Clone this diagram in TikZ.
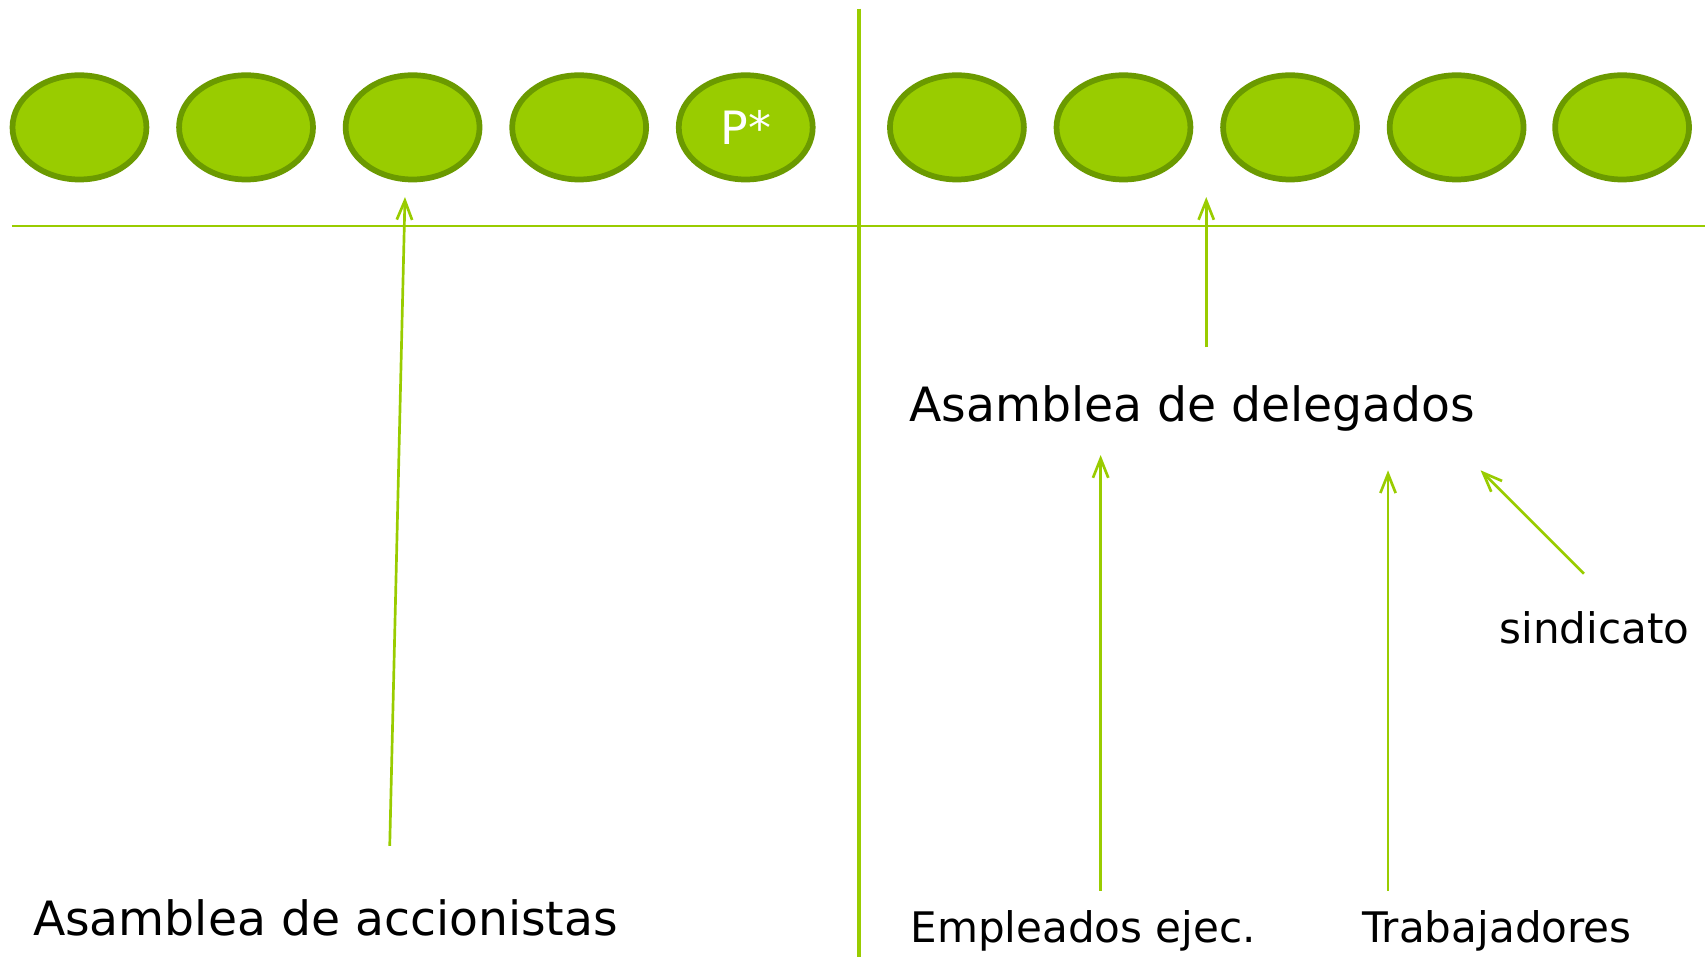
\documentclass[tikz,border=0pt]{standalone}
\usepackage{fontspec}
\setmainfont{DejaVu Sans}
\usetikzlibrary{arrows.meta,shapes.geometric}
\definecolor{leaf}{HTML}{99CC00}
\definecolor{leafdark}{HTML}{6B9A00}
\tikzstyle{seat} = [draw=leafdark, fill=leaf, ellipse, line width=3pt, inner sep=0pt, minimum width=70pt, minimum height=54.5pt]
\tikzstyle{big} = [inner sep=0pt, anchor=base west, font={\fontsize{24.7}{30}\selectfont}]
\tikzstyle{small} = [inner sep=0pt, anchor=base west, font={\fontsize{22}{26}\selectfont}]
\tikzstyle{vote} = [draw=leaf, line width=1.4pt, -{Straight Barb[length=10pt,width=8pt]}]

\begin{document}
\begin{tikzpicture}[x=0.569pt, y=-0.569pt]
  \useasboundingbox (0,0) rectangle (1568,879);
  % separators
  \draw[leaf, line width=1.1pt] (11,208) -- (1566,208);
  \draw[leaf, line width=2.4pt] (789,8) -- (789,879);
  % seats of the board
  \node[seat](s1) at (73,117){};
  \node[seat](s2) at (226,117){};
  \node[seat](s3) at (379,117){};
  \node[seat](s4) at (532,117){};
  \node[seat, text=white, font={\fontsize{24}{28}\selectfont}](s5) at (685,117){P*};
  \node[seat](s6) at (879,117){};
  \node[seat](s7) at (1032,117){};
  \node[seat](s8) at (1185,117){};
  \node[seat](s9) at (1338,117){};
  \node[seat](s10) at (1490,117){};
  % texts
  \node[big](acc) at (30,859){Asamblea de accionistas};
  \node[big](del) at (835,387){Asamblea de delegados};
  \node[small](emp) at (836,866){Empleados ejec.};
  \node[small](trab) at (1251,866){Trabajadores};
  \node[small](sind) at (1377,591){sindicato};
  % arrow ends
  \coordinate (acc-from) at (358,777);
  \coordinate (acc-to) at (372,181);
  \coordinate (del-from) at (1108,319);
  \coordinate (del-to) at (1108,181);
  \coordinate (emp-from) at (1011,818);
  \coordinate (emp-to) at (1011,418);
  \coordinate (trab-from) at (1275,818);
  \coordinate (trab-to) at (1275,432);
  \coordinate (sind-from) at (1455,527);
  \coordinate (sind-to) at (1360,432);
  \draw[vote](acc-from)--(acc-to);
  \draw[vote](del-from)--(del-to);
  \draw[vote](emp-from)--(emp-to);
  \draw[vote](trab-from)--(trab-to);
  \draw[vote](sind-from)--(sind-to);
\end{tikzpicture}
\end{document}
